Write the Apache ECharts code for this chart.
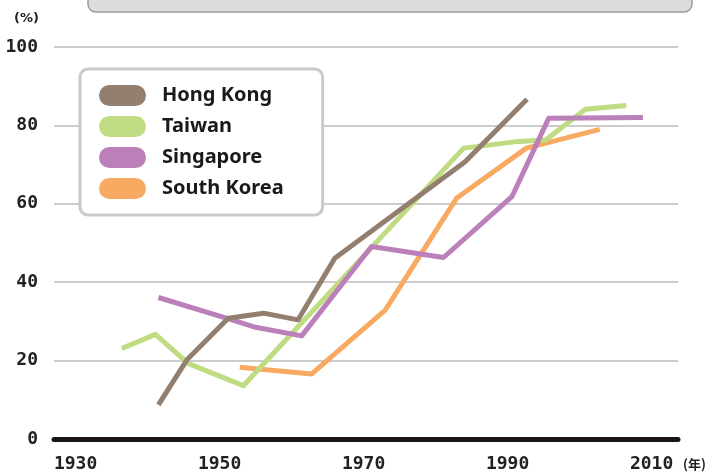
<!DOCTYPE html>
<html>
<head>
<meta charset="utf-8">
<script src="https://cdn.jsdelivr.net/npm/echarts@6/dist/echarts.min.js"></script>
<style>
  html, body { margin: 0; padding: 0; background: #fff; }
  #chart { width: 714px; height: 475px; }
</style>
</head>
<body>
<div id="chart"></div>
<script>
// Urban population share (%) by year
const yearTicks = [1930, 1950, 1970, 1990, 2010];
const valueTicks = [0, 20, 40, 60, 80, 100];

const seriesNames = ['Hong Kong', 'Taiwan', 'Singapore', 'South Korea'];

const hongKong = [
  [1941.5, 8.7], [1945.5, 20.3], [1951.2, 30.8], [1956.1, 32.1],
  [1960.9, 30.4], [1966.0, 46.1], [1984.1, 70.7], [1992.7, 86.7]
];
const taiwan = [
  [1936.4, 23.1], [1941.1, 26.7], [1945.6, 19.3], [1953.3, 13.6],
  [1983.9, 74.2], [1991.0, 75.8], [1995.3, 76.3], [2000.8, 84.1], [2006.5, 85.1]
];
const singapore = [
  [1941.5, 36.1], [1951.5, 30.5], [1955.0, 28.5], [1961.4, 26.3],
  [1971.1, 49.1], [1981.1, 46.3], [1990.6, 61.8], [1995.7, 81.8], [2008.8, 82.0]
];
const southKorea = [
  [1952.8, 18.3], [1962.8, 16.6], [1973.0, 32.9], [1982.9, 61.4],
  [1992.6, 74.2], [2002.8, 79.0]
];

const colors = {
  'Hong Kong': '#927f6f',
  'Taiwan': '#bfdc82',
  'Singapore': '#bb7fba',
  'South Korea': '#f8aa63'
};

const labelFont = '"DejaVu Sans Mono", monospace';
const pillIcon = 'path://M10.5,0H36.5A10.5,10.5,0,0,1,36.5,21H10.5A10.5,10.5,0,0,1,10.5,0Z';

function lineSeries(name, data) {
  return {
    name: name,
    type: 'line',
    data: data,
    showSymbol: false,
    symbol: 'none',
    silent: true,
    lineStyle: { color: colors[name], width: 5, join: 'round' },
    itemStyle: { color: colors[name] }
  };
}

const chart = echarts.init(document.getElementById('chart'), null, { renderer: 'canvas' });

chart.setOption({
  animation: false,
  backgroundColor: '#ffffff',
  grid: { left: 54, right: 36, top: 47, bottom: 36, containLabel: false },
  xAxis: {
    type: 'value',
    min: 1927,
    max: 2013.67,
    splitLine: { show: false },
    axisTick: { show: false },
    axisLine: { show: true, onZero: false, lineStyle: { color: '#1a1414', width: 5, cap: 'round' } },
    axisLabel: {
      customValues: yearTicks,
      formatter: function (v) { return String(Math.round(v)); },
      margin: 16,
      color: '#222',
      fontFamily: labelFont,
      fontWeight: 'bold',
      fontSize: 18
    }
  },
  yAxis: {
    type: 'value',
    min: valueTicks[0],
    max: valueTicks[valueTicks.length - 1],
    interval: 20,
    axisLine: { show: false },
    axisTick: { show: false },
    splitLine: { show: true, lineStyle: { color: '#cccccc', width: 2 } },
    axisLabel: {
      margin: 16,
      color: '#222',
      fontFamily: labelFont,
      fontWeight: 'bold',
      fontSize: 18
    }
  },
  legend: {
    data: seriesNames,
    orient: 'vertical',
    left: 80,
    top: 69,
    padding: [16, 39, 16, 19],
    itemWidth: 47,
    itemHeight: 21,
    itemGap: 10,
    icon: pillIcon,
    borderColor: '#c9c9c9',
    borderWidth: 3,
    borderRadius: 8,
    backgroundColor: '#ffffff',
    selectedMode: false,
    textStyle: {
      fontFamily: '"Noto Sans", sans-serif',
      fontWeight: 'bold',
      fontSize: 20,
      color: '#1a1a1a',
      padding: [0, 0, 0, 11]
    }
  },
  graphic: [
    {
      type: 'rect',
      shape: { x: 88, y: -12, width: 604, height: 24, r: 8 },
      style: { fill: '#dcdddf', stroke: '#9c9c9c', lineWidth: 1.5 },
      silent: true
    },
    {
      type: 'text',
      left: 14,
      top: 12,
      style: { text: '(%)', font: 'bold 13px "DejaVu Sans", sans-serif', fill: '#222' }
    },
    {
      type: 'text',
      left: 683,
      top: 458,
      style: { text: '(年)', font: 'bold 13px "Noto Sans CJK JP", sans-serif', fill: '#222' }
    }
  ],
  series: [
    lineSeries('South Korea', southKorea),
    lineSeries('Taiwan', taiwan),
    lineSeries('Singapore', singapore),
    lineSeries('Hong Kong', hongKong)
  ]
});
</script>
</body>
</html>
